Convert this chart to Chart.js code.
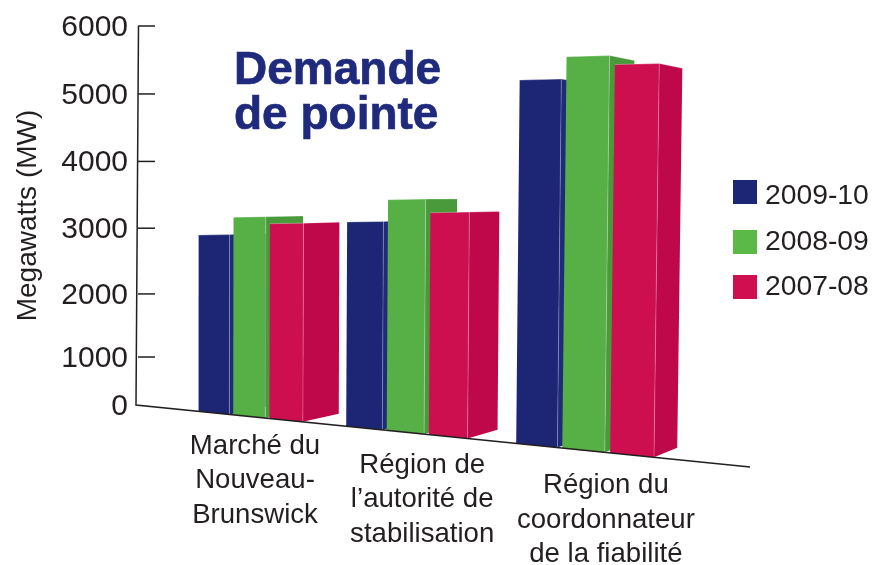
<!DOCTYPE html>
<html lang="fr">
<head>
<meta charset="utf-8">
<title>Demande de pointe</title>
<script src="https://cdn.jsdelivr.net/npm/chart.js@4"></script>
<style>
  html, body { margin: 0; padding: 0; background: #fff; }
  canvas { display: block; }
</style>
</head>
<body>
<canvas id="chart" width="872" height="565"></canvas>
<script>
// Data
const categories = [
  ['Marché du', 'Nouveau-', 'Brunswick'],
  ['Région de', 'l’autorité de', 'stabilisation'],
  ['Région du', 'coordonnateur', 'de la fiabilité']
];
const seriesNames = ['2009-10', '2008-09', '2007-08'];
const values200910 = [2896, 3093, 5205];
const values200809 = [3165, 3428, 5550];
const values200708 = [3068, 3233, 5433];
const yTickStep = 1000;
const yMax = 6000;
const titleLines = ['Demande', 'de pointe'];

const FONT = '"Liberation Sans", Arial, sans-serif';
const TEXT = '#231f20';
const fronts = ['#1c2674', '#57b046', '#ce0f4f'];
const sides = ['#1f2a7a', '#4a9a3c', '#bf0849'];
const legendColors = ['#1c2674', '#5bb947', '#d00f50'];
const legendY = [180, 230, 275];
const legendTextY = [196, 242, 287];

// Value axis of the drawing: the stretch below 1000 is foreshortened
class PerspectiveScale extends Chart.LinearScale {
  getPixelForValue(value) {
    if (value === null || value === undefined) return NaN;
    const span = this.bottom - this.top;
    const lowPart = span * 0.1266;
    if (value < yTickStep) return this.bottom - lowPart * value / yTickStep;
    const t = (value - yTickStep) / (yMax - yTickStep);
    return this.bottom - lowPart - (span - lowPart) * Math.pow(t, 1.03);
  }
}
PerspectiveScale.id = 'perspective';
PerspectiveScale.defaults = Chart.LinearScale.defaults;
Chart.register(PerspectiveScale);

// Floor line of the drawing and vanishing point of the side faces
const floorY = (chart, x) => chart.chartArea.bottom + (x - chart.chartArea.left + 2) * 0.101;
const VANISH = { x: 1300, y: 195, f: 0.036 };
const toBack = p => ({ x: p.x + (VANISH.x - p.x) * VANISH.f, y: p.y + (VANISH.y - p.y) * VANISH.f });

// Category x to screen x: bars get wider towards the right
function projectX(chart, x) {
  const xScale = chart.scales.x;
  const first = xScale.getPixelForTick(0);
  const slot = (xScale.getPixelForTick(1) - first) / 4;
  const p = (x - first) / slot;
  return 249.5 + 36.3 * p + 0.75 * p * p;
}

function polygon(ctx, pts, fill) {
  ctx.beginPath();
  pts.forEach((p, i) => (i ? ctx.lineTo(p.x, p.y) : ctx.moveTo(p.x, p.y)));
  ctx.closePath();
  ctx.fillStyle = fill;
  ctx.fill();
}

function edge(ctx, a, b, color) {
  ctx.beginPath();
  ctx.moveTo(a.x, a.y);
  ctx.lineTo(b.x, b.y);
  ctx.strokeStyle = color;
  ctx.lineWidth = 1;
  ctx.stroke();
}

function drawBar(chart, bar, d) {
  const ctx = chart.ctx;
  const height = floorY(chart, bar.x) - bar.y;
  const lean = x => (x - 190) * 0.0000285 * height;
  const rise = height / 367;

  const xl = projectX(chart, bar.x - bar.width / 2);
  const xr = projectX(chart, bar.x + bar.width / 2);
  const topL = { x: xl, y: bar.y };
  const topR = { x: xr, y: bar.y - rise };
  const botL = { x: xl - lean(xl), y: floorY(chart, xl - lean(xl)) };
  const botR = { x: xr - lean(xr), y: floorY(chart, xr - lean(xr)) };
  const backTop = toBack(topR);
  const backBot = toBack(botR);

  polygon(ctx, [topR, backTop, backBot, botR], sides[d]);
  edge(ctx, topR, backTop, 'rgba(255,255,255,0.25)');
  polygon(ctx, [topL, topR, botR, botL], fronts[d]);
  edge(ctx, topL, topR, 'rgba(255,255,255,0.3)');
  edge(ctx, topR, botR, 'rgba(255,255,255,0.25)');
}

const perspectivePlugin = {
  id: 'perspective',
  beforeDatasetsDraw(chart) {
    // groups go left to right, inside a group the later series sits in front
    categories.forEach((_, i) => {
      chart.data.datasets.forEach((ds, d) => {
        drawBar(chart, chart.getDatasetMeta(d).data[i], d);
      });
    });
    return false;
  },
  afterDraw(chart) {
    const ctx = chart.ctx;
    const { left, top, bottom } = chart.chartArea;
    const yScale = chart.scales.y;

    // axis lines
    ctx.save();
    ctx.strokeStyle = TEXT;
    ctx.lineWidth = 1.5;
    ctx.beginPath();
    ctx.moveTo(left + 0.5, top);
    ctx.lineTo(left - 2, bottom);
    ctx.lineTo(750, floorY(chart, 750));
    ctx.stroke();

    // inner tick marks, none at zero
    yScale.ticks.forEach(tick => {
      if (tick.value === 0) return;
      const y = yScale.getPixelForValue(tick.value);
      ctx.beginPath();
      ctx.moveTo(left, y);
      ctx.lineTo(left + 17, y);
      ctx.stroke();
    });

    // category labels hang below the sloping floor
    ctx.fillStyle = TEXT;
    ctx.font = '27.6px ' + FONT;
    ctx.textAlign = 'center';
    ctx.textBaseline = 'middle';
    categories.forEach((lines, i) => {
      const x = projectX(chart, chart.scales.x.getPixelForTick(i)) + [5.5, 15.5, 18][i];
      const y = floorY(chart, x) + [29, 31, 33][i];
      lines.forEach((line, n) => ctx.fillText(line, x, y + n * 34.5));
    });

    // title
    ctx.fillStyle = '#1f2a7c';
    ctx.strokeStyle = '#1f2a7c';
    ctx.lineWidth = 0.7;
    ctx.font = 'bold 46px ' + FONT;
    ctx.textAlign = 'left';
    ctx.textBaseline = 'alphabetic';
    titleLines.forEach((line, n) => {
      ctx.fillText(line, 234, 84 + n * 45);
      ctx.strokeText(line, 234, 84 + n * 45);
    });

    // legend
    ctx.font = '28.3px ' + FONT;
    ctx.textBaseline = 'middle';
    chart.data.datasets.forEach((ds, d) => {
      ctx.fillStyle = legendColors[d];
      ctx.fillRect(733, legendY[d], 24, 24);
      ctx.fillStyle = TEXT;
      ctx.fillText(ds.label, 765, legendTextY[d]);
    });
    ctx.restore();
  }
};

new Chart(document.getElementById('chart'), {
  type: 'bar',
  data: {
    labels: categories,
    datasets: [
      { label: seriesNames[0], data: values200910, backgroundColor: fronts[0] },
      { label: seriesNames[1], data: values200809, backgroundColor: fronts[1] },
      { label: seriesNames[2], data: values200708, backgroundColor: fronts[2] }
    ]
  },
  options: {
    responsive: false,
    animation: false,
    events: [],
    barPercentage: 0.89,
    categoryPercentage: 0.75,
    layout: { padding: { top: 26, right: 150, bottom: 160, left: 0 } },
    plugins: { legend: { display: false }, title: { display: false }, tooltip: { enabled: false } },
    scales: {
      x: { display: false },
      y: {
        type: 'perspective',
        min: 0,
        max: yMax,
        afterFit(scale) {
          scale.width = 138;
          scale.paddingTop = 0;
          scale.paddingBottom = 0;
        },
        border: { display: false },
        grid: { display: false },
        ticks: {
          stepSize: yTickStep,
          color: TEXT,
          padding: 2,
          labelOffset: 1.5,
          font: { family: FONT, size: 30 },
          callback: value => String(value)
        },
        title: {
          display: true,
          text: 'Megawatts (MW)',
          color: TEXT,
          font: { family: FONT, size: 28 },
          padding: { top: 11, bottom: 0 }
        }
      }
    }
  },
  plugins: [perspectivePlugin]
});
</script>
</body>
</html>
